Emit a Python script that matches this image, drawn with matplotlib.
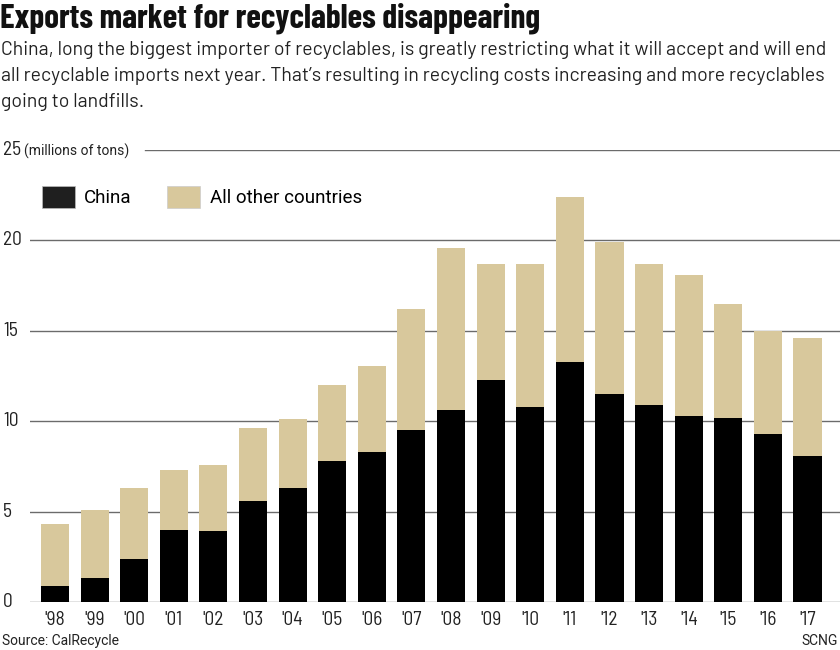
import matplotlib
matplotlib.use("Agg")
import matplotlib.pyplot as plt
from matplotlib.patches import Patch

years = ["'98", "'99", "'00", "'01", "'02", "'03", "'04", "'05", "'06", "'07",
         "'08", "'09", "'10", "'11", "'12", "'13", "'14", "'15", "'16", "'17"]
china = [0.9, 1.3, 2.4, 4.0, 3.9, 5.6, 6.3, 7.8, 8.3, 9.5,
         10.6, 12.3, 10.8, 13.3, 11.5, 10.9, 10.3, 10.2, 9.3, 8.1]
total = [4.3, 5.1, 6.3, 7.3, 7.6, 9.6, 10.1, 12.0, 13.05, 16.2,
         19.6, 18.7, 18.7, 22.4, 19.9, 18.7, 18.1, 16.5, 15.0, 14.6]
others = [t - c for t, c in zip(total, china)]
yticks = [0, 5, 10, 15, 20, 25]

title_f = "Barlow Condensed"
semi = "Barlow Semi Condensed"
sub_f = "Barlow"
body = "Roboto"

W, H = 840, 650
fig = plt.figure(figsize=(W / 100, H / 100), dpi=100)
fig.patch.set_facecolor("white")

ax = fig.add_axes([30 / W, 48 / H, 810 / W, 452 / H])
ax.set_xlim(-0.63, 19.82)
ax.set_ylim(0, 25)
ax.axis("off")

grid_c = "#6b6b6b"
for v in yticks[:-1]:
    ax.axhline(v, color=grid_c, lw=1.0, zorder=1)
ax.axhline(25, xmin=(145 - 30) / 810, xmax=1, color=grid_c, lw=1.0, zorder=1)

x = list(range(len(years)))
ax.bar(x, china, width=0.71, color="#000000", zorder=2, label="China")
ax.bar(x, others, bottom=china, width=0.71, color="#d8c89c", zorder=2,
       label="All other countries")

for v in yticks:
    fig.text(3 / W, (48 + v * 452 / 25) / H, str(v), fontsize=14, family=semi,
             color="#222222", va="center", ha="left")
fig.text(24 / W, 499 / H, "(millions of tons)", fontsize=10, family=body,
         color="#222222", va="center", ha="left")

for i, lab in enumerate(years):
    ax.text(i, -1.0, lab, fontsize=14, family=semi,
            color="#222222", ha="center", va="center")

handles = [Patch(facecolor="#1f1f1f", edgecolor="#bbbbbb", lw=0.5),
           Patch(facecolor="#d8c89c", edgecolor="#cccccc", lw=0.5)]
fig.legend(handles, ["China", "All other countries"], loc="center left",
           bbox_to_anchor=(25 / W, (H - 197) / H), ncol=2, frameon=False,
           prop={"family": body, "size": 13.5}, handlelength=1.75,
           handleheight=1.35, columnspacing=1.9, handletextpad=0.5)

fig.text(0 / W, (H - 18) / H, "Exports market for recyclables disappearing",
         fontsize=24, fontweight="bold", family=title_f, color="#111111",
         va="center", ha="left")
sub = ("China, long the biggest importer of recyclables, is greatly restricting what it will accept and will end\n"
       "all recyclable imports next year. That\u2019s resulting in recycling costs increasing and more recyclables\n"
       "going to landfills.")
fig.text(1 / W, (H - 41) / H, sub, fontsize=14.0, family=sub_f,
         color="#222222", va="top", ha="left", linespacing=1.56)

fig.text(2 / W, (H - 641) / H, "Source: CalRecycle", fontsize=10, family=body,
         color="#222222", va="center", ha="left")
fig.text(838 / W, (H - 641) / H, "SCNG", fontsize=10, family=body,
         color="#222222", va="center", ha="right")

fig.savefig("out.png", dpi=100, facecolor="white")
